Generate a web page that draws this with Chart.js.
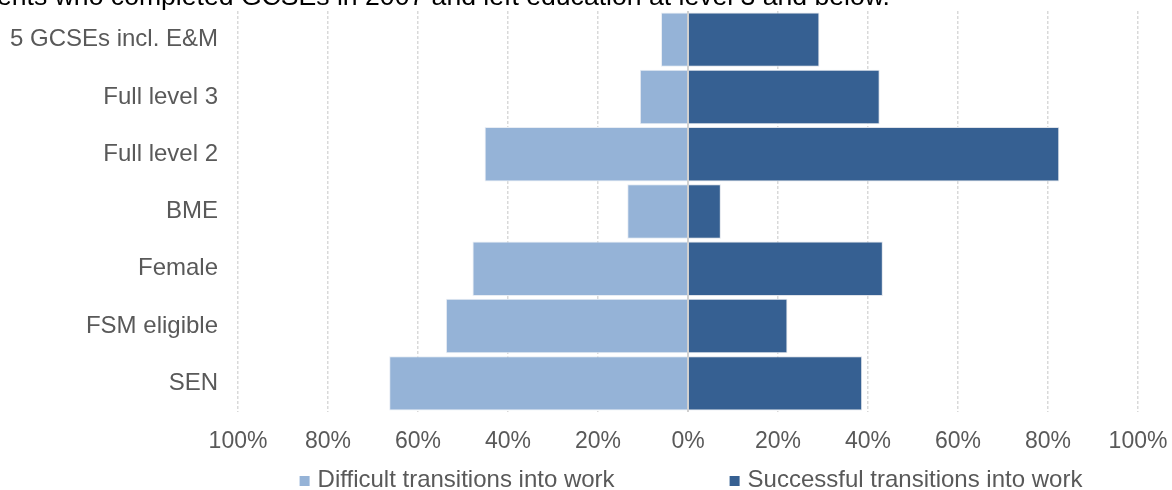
<!DOCTYPE html>
<html>
<head>
<meta charset="utf-8">
<style>
  html, body { margin: 0; padding: 0; background: #fff; overflow: hidden; }
  #wrap { position: relative; width: 1172px; height: 490px; }
</style>
<script src="https://cdn.jsdelivr.net/npm/chart.js@4.4.1/dist/chart.umd.min.js"></script>
</head>
<body>
<div id="wrap"><canvas id="myChart" width="1172" height="490"></canvas></div>
<script>
const categories = ['5 GCSEs incl. E&M', 'Full level 3', 'Full level 2', 'BME', 'Female', 'FSM eligible', 'SEN'];
const difficult = [6.0, 10.7, 45.2, 13.5, 47.9, 53.8, 66.4];
const successful = [29.2, 42.6, 82.5, 7.3, 43.3, 22.1, 38.7];
const tickValues = [-100, -80, -60, -40, -20, 0, 20, 40, 60, 80, 100];
const seriesNames = ['Difficult transitions into work', 'Successful transitions into work'];
const titleText = 'ents who completed GCSEs in 2007 and left education at level 3 and below.';

const FONT = '"Liberation Sans", Arial, sans-serif';
const GREY = '#595959';

// cut-off caption along the top edge
const captionPlugin = {
  id: 'caption',
  afterDraw(chart) {
    const ctx = chart.ctx;
    ctx.save();
    ctx.font = '26.6px ' + FONT;
    ctx.fillStyle = '#000';
    ctx.textBaseline = 'alphabetic';
    ctx.textAlign = 'left';
    ctx.fillText(titleText, -3, 5);
    ctx.restore();
  }
};

// vertical line at 0 drawn over the bars
const zeroLine = {
  id: 'zeroLine',
  afterDatasetsDraw(chart) {
    const ctx = chart.ctx;
    const x = chart.scales.x.getPixelForValue(0);
    const area = chart.chartArea;
    ctx.save();
    ctx.strokeStyle = '#d0d0d0';
    ctx.lineWidth = 2;
    ctx.beginPath();
    ctx.moveTo(x, area.top);
    ctx.lineTo(x, area.bottom);
    ctx.stroke();
    ctx.restore();
  }
};

// legend centred under the plot area
const bottomLegend = {
  id: 'bottomLegend',
  afterDraw(chart) {
    const ctx = chart.ctx;
    const area = chart.chartArea;
    const box = 10, gapText = 8, gapItem = 115;
    ctx.save();
    ctx.font = '24px ' + FONT;
    ctx.textBaseline = 'middle';
    const items = chart.data.datasets.map(ds => ({
      label: ds.label,
      color: ds.backgroundColor,
      w: box + gapText + ctx.measureText(ds.label).width
    }));
    const total = items.reduce((s, it) => s + it.w, 0) + gapItem * (items.length - 1);
    let x = (area.left + area.right) / 2 - total / 2 + 3;
    const y = 480;
    items.forEach(it => {
      ctx.fillStyle = it.color;
      ctx.fillRect(x, y - box / 2 + 1, box, box);
      ctx.fillStyle = GREY;
      ctx.fillText(it.label, x + box + gapText, y);
      x += it.w + gapItem;
    });
    ctx.restore();
  }
};

const ctx = document.getElementById('myChart').getContext('2d');
new Chart(ctx, {
  type: 'bar',
  data: {
    labels: categories,
    datasets: [
      {
        label: seriesNames[0],
        data: difficult.map(v => -v),
        backgroundColor: '#95b3d7',
        borderColor: '#e8edf4',
        borderWidth: 1,
        barPercentage: 0.95,
        categoryPercentage: 1
      },
      {
        label: seriesNames[1],
        data: successful,
        backgroundColor: '#366092',
        borderColor: '#dfe3ea',
        borderWidth: 1,
        barPercentage: 0.95,
        categoryPercentage: 1
      }
    ]
  },
  options: {
    indexAxis: 'y',
    responsive: false,
    animation: false,
    layout: { padding: { top: 11, right: 34, left: 0, bottom: 38 } },
    plugins: {
      legend: { display: false },
      tooltip: { enabled: false }
    },
    scales: {
      x: {
        stacked: true,
        min: -100,
        max: 100,
        afterBuildTicks(scale) {
          scale.ticks = tickValues.map(v => ({ value: v }));
        },
        afterFit(scale) {
          scale.height = 40;
          scale.paddingLeft = 0;
          scale.paddingRight = 0;
        },
        border: { display: false, dash: [3, 2] },
        grid: {
          color: '#d9d9d9',
          lineWidth: 1.5,
          drawTicks: false
        },
        ticks: {
          padding: 16,
          color: GREY,
          font: { family: FONT, size: 23 },
          callback: v => Math.abs(v) + '%'
        }
      },
      y: {
        stacked: true,
        afterFit(scale) {
          scale.width = 238;
          scale.paddingTop = 0;
          scale.paddingBottom = 0;
        },
        border: { display: false },
        grid: { display: false, drawTicks: false },
        ticks: {
          padding: 20,
          color: GREY,
          font: { family: FONT, size: 24 }
        }
      }
    }
  },
  plugins: [captionPlugin, zeroLine, bottomLegend]
});
</script>
</body>
</html>
